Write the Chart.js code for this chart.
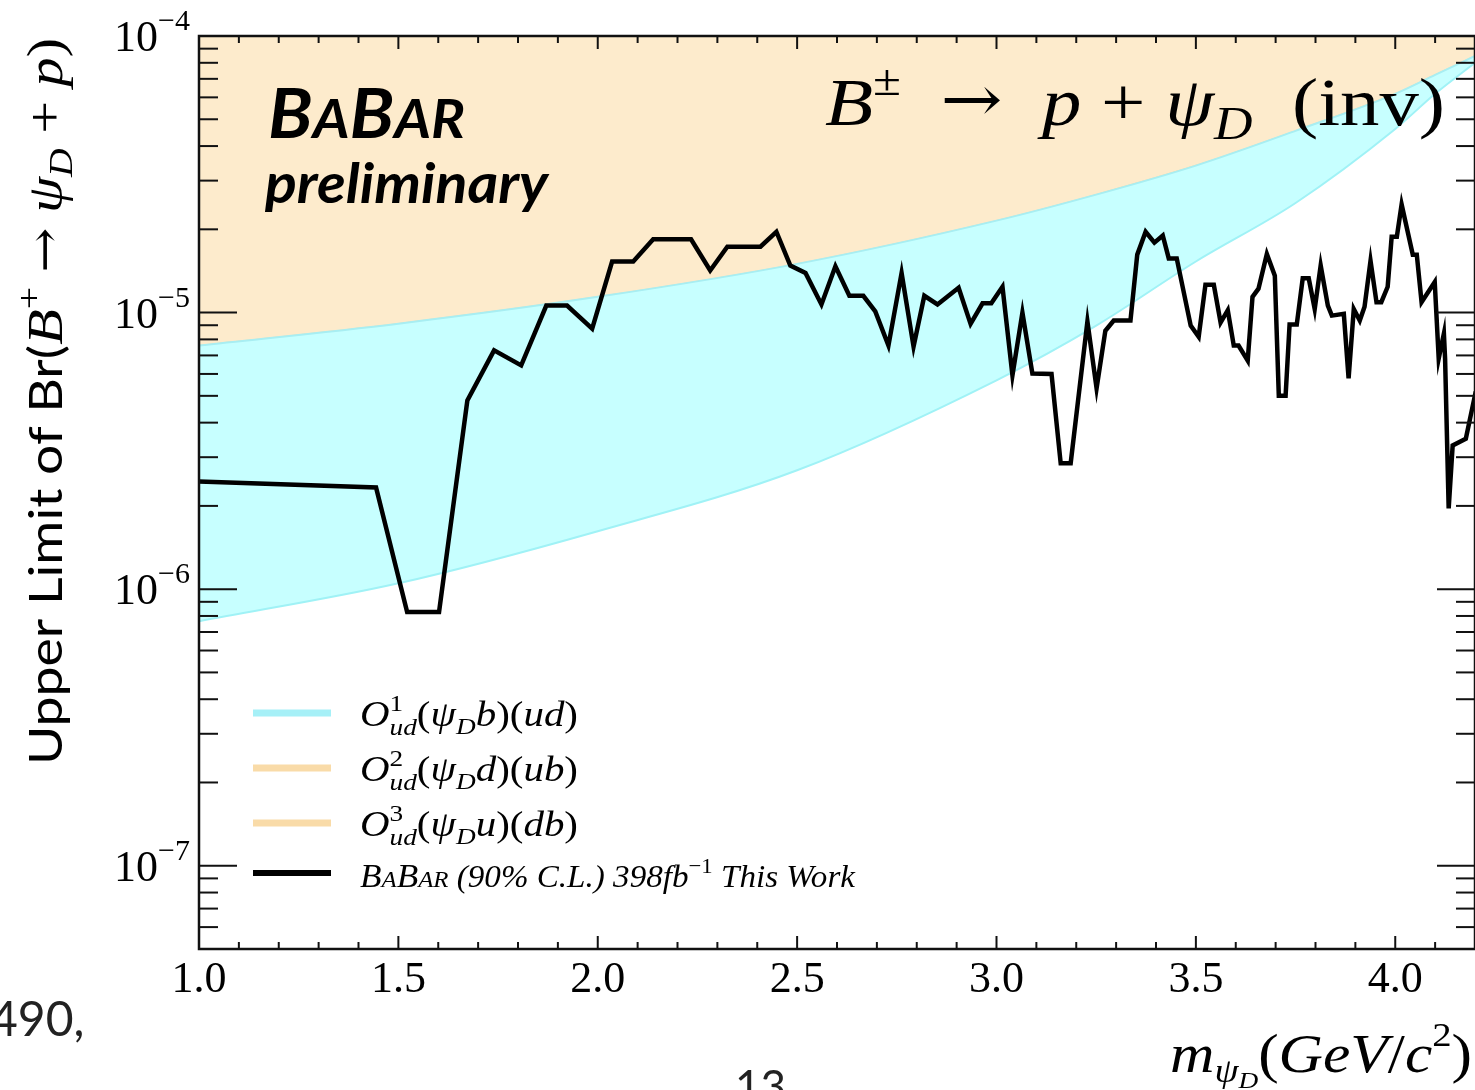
<!DOCTYPE html>
<html>
<head>
<meta charset="utf-8">
<script src="https://cdn.jsdelivr.net/npm/chart.js@4/dist/chart.umd.min.js"></script>
<style>
  html, body { margin: 0; padding: 0; background: #fff; }
  #wrap { width: 1475px; height: 1090px; }
</style>
</head>
<body>
<div id="wrap"><canvas id="limitChart" width="1475" height="1090"></canvas></div>
<script>
// band edges (theory predictions)
const bandX    = [1.0, 1.5, 2.0, 2.5, 3.0, 3.25, 3.5, 3.75, 4.0, 4.1, 4.2];
const cyanLow  = [7.66e-7, 1.05e-6, 1.62e-6, 2.69e-6, 5.69e-6, 8.97e-6, 1.53e-5, 2.49e-5, 4.61e-5, 6.18e-5, 8.0e-5];
const cyanHigh = [7.6e-6, 9.12e-6, 1.14e-5, 1.50e-5, 2.15e-5, 2.67e-5, 3.40e-5, 4.54e-5, 6.18e-5, 7.23e-5, 8.47e-5];
const orangeTop = [3e-4, 3e-4, 3e-4, 3e-4, 3e-4, 3e-4, 3e-4, 3e-4, 3e-4, 3e-4, 3e-4];

// BaBar 90% CL upper limit
const limitX = [1.000, 1.444, 1.522, 1.602, 1.673, 1.740, 1.808, 1.871, 1.923, 1.986,
  2.036, 2.089, 2.139, 2.234, 2.282, 2.325, 2.408, 2.448, 2.483, 2.521,
  2.561, 2.596, 2.631, 2.666, 2.696, 2.729, 2.762, 2.792, 2.819, 2.852,
  2.905, 2.935, 2.965, 2.987, 3.015, 3.040, 3.065, 3.090, 3.138, 3.161,
  3.186, 3.228, 3.251, 3.273, 3.294, 3.336, 3.353, 3.374, 3.396, 3.417,
  3.432, 3.452, 3.487, 3.507, 3.524, 3.545, 3.562, 3.580, 3.595, 3.607,
  3.630, 3.642, 3.657, 3.678, 3.698, 3.708, 3.725, 3.735, 3.753, 3.768,
  3.783, 3.798, 3.813, 3.831, 3.841, 3.871, 3.883, 3.896, 3.911, 3.923,
  3.938, 3.953, 3.965, 3.981, 3.991, 4.004, 4.016, 4.044, 4.054, 4.066,
  4.099, 4.109, 4.122, 4.125, 4.134, 4.144, 4.177, 4.202];
const limitY = [2.45e-6, 2.33e-6, 8.26e-7, 8.26e-7, 4.81e-6, 7.3e-6, 6.44e-6, 1.06e-5, 1.06e-5, 8.75e-6,
  1.53e-5, 1.53e-5, 1.84e-5, 1.84e-5, 1.42e-5, 1.73e-5, 1.73e-5, 1.96e-5, 1.48e-5, 1.39e-5,
  1.07e-5, 1.47e-5, 1.15e-5, 1.15e-5, 1.01e-5, 7.6e-6, 1.39e-5, 7.54e-6, 1.15e-5, 1.07e-5,
  1.23e-5, 9.1e-6, 1.08e-5, 1.08e-5, 1.24e-5, 5.93e-6, 1.0e-5, 6.02e-6, 6.0e-6, 2.85e-6,
  2.85e-6, 9.28e-6, 5.32e-6, 8.6e-6, 9.36e-6, 9.36e-6, 1.62e-5, 1.96e-5, 1.79e-5, 1.90e-5,
  1.57e-5, 1.57e-5, 8.97e-6, 8.18e-6, 1.26e-5, 1.26e-5, 9.2e-6, 1.02e-5, 7.6e-6, 7.6e-6,
  6.7e-6, 1.14e-5, 1.22e-5, 1.63e-5, 1.36e-5, 5.0e-6, 5.0e-6, 9.06e-6, 9.06e-6, 1.33e-5,
  1.33e-5, 1.03e-5, 1.48e-5, 1.06e-5, 9.75e-6, 9.9e-6, 5.78e-6, 1.03e-5, 9.36e-6, 1.05e-5,
  1.54e-5, 1.09e-5, 1.09e-5, 1.24e-5, 1.88e-5, 1.88e-5, 2.46e-5, 1.62e-5, 1.62e-5, 1.09e-5,
  1.29e-5, 6.82e-6, 8.4e-6, 6.8e-6, 1.96e-6, 3.31e-6, 3.5e-6, 5.19e-6];

const xTickValues = [1.0, 1.5, 2.0, 2.5, 3.0, 3.5, 4.0];
const xTickLabels = ["1.0", "1.5", "2.0", "2.5", "3.0", "3.5", "4.0"];
const yTickValues = [1e-4, 1e-5, 1e-6, 1e-7];
const yTickExps = ["\u22124", "\u22125", "\u22126", "\u22127"];

const SERIF = '"Liberation Serif", "DejaVu Serif", serif';
const SANS = 'Lato, "Open Sans", sans-serif';
const ARROW = '"DejaVu Serif", serif';

function pts(xs, ys) {
  return xs.map((x, i) => ({ x: x, y: ys[i] }));
}

// draws a row of text pieces [text, font, dy, noAdvance], squeezed to width
function rich(ctx, segs, x, y, width) {
  let total = 0;
  segs.forEach(s => {
    ctx.font = s[1];
    if (!s[3]) total += ctx.measureText(s[0]).width;
  });
  const k = width ? width / total : 1;
  ctx.save();
  ctx.translate(x, y);
  ctx.scale(k, 1);
  let cx = 0;
  segs.forEach(s => {
    ctx.font = s[1];
    ctx.fillText(s[0], cx, s[2] || 0);
    if (!s[3]) cx += ctx.measureText(s[0]).width;
  });
  ctx.restore();
}

function seg(ctx, x1, y1, x2, y2) {
  ctx.beginPath();
  ctx.moveTo(x1, y1);
  ctx.lineTo(x2, y2);
  ctx.stroke();
}

const decorPlugin = {
  id: "decor",
  afterDatasetsDraw(chart) {
    const ctx = chart.ctx;
    const xs = chart.scales.x, ys = chart.scales.y;
    const { left, right, top, bottom } = chart.chartArea;
    ctx.save();
    ctx.fillStyle = "#000";
    ctx.strokeStyle = "#111";
    ctx.textBaseline = "alphabetic";

    // ticks on all four sides, pointing in
    ctx.lineWidth = 2;
    for (let i = 10; i <= 42; i++) {
      const px = xs.getPixelForValue(i / 10);
      const len = i % 5 === 0 ? 13 : 7;
      seg(ctx, px, bottom, px, bottom - len);
      seg(ctx, px, top, px, top + len);
    }
    for (let d = -8; d <= -4; d++) {
      for (let m = 1; m <= 9; m++) {
        const v = m * Math.pow(10, d);
        if (v < 5.01e-8 || v > 1.0001e-4) continue;
        const py = ys.getPixelForValue(v);
        const len = m === 1 ? 38 : 19;
        seg(ctx, left, py, left + len, py);
        seg(ctx, right, py, right - len, py);
      }
    }
    ctx.lineWidth = 2.5;
    ctx.strokeRect(left, top, right - left, bottom - top);

    // tick labels
    ctx.textAlign = "center";
    ctx.font = "44px " + SERIF;
    xTickValues.forEach((v, i) => {
      ctx.fillText(xTickLabels[i], xs.getPixelForValue(v), 992);
    });
    ctx.textAlign = "left";
    yTickValues.forEach((v, i) => {
      const py = ys.getPixelForValue(v);
      ctx.font = "30px " + SERIF;
      const wSup = ctx.measureText(yTickExps[i]).width;
      ctx.font = "44px " + SERIF;
      const wBase = ctx.measureText("10").width;
      const x0 = 190 - wSup - wBase;
      ctx.fillText("10", x0, py + 15);
      ctx.font = "30px " + SERIF;
      ctx.fillText(yTickExps[i], x0 + wBase, py - 6);
    });

    // y axis title
    ctx.save();
    ctx.translate(62, 765);
    ctx.rotate(-Math.PI / 2);
    rich(ctx, [
      ["Upper Limit of Br(", "46px " + SANS],
      ["B", "italic 50px " + SERIF],
      ["+", "34px " + SERIF, -22],
      [" ", "50px " + SERIF],
      ["\u2192", "46px " + ARROW, -2],
      [" ", "50px " + SERIF],
      ["\u03c8", "italic 50px " + SERIF],
      ["D", "italic 34px " + SERIF, 10],
      [" + ", "50px " + SERIF],
      ["p", "italic 50px " + SERIF],
      [")", "50px " + SERIF]
    ], 0, 0, 727);
    ctx.restore();

    // x axis title
    rich(ctx, [
      ["m", "italic 54px " + SERIF],
      ["\u03c8", "italic 34px " + SERIF, 10],
      ["D", "italic 24px " + SERIF, 16],
      ["(", "54px " + SERIF],
      ["GeV", "italic 54px " + SERIF],
      ["/", "54px " + SERIF],
      ["c", "italic 54px " + SERIF],
      ["2", "34px " + SERIF, -26],
      [")", "54px " + SERIF]
    ], 1170, 1072, 302);

    // BaBar logo
    rich(ctx, [
      ["B", "italic bold 68px " + SANS],
      ["A", "italic bold 53px " + SANS],
      ["B", "italic bold 68px " + SANS],
      ["AR", "italic bold 53px " + SANS]
    ], 268, 138, 197);
    rich(ctx, [["preliminary", "italic bold 55px " + SANS]], 265, 203, 283);

    // process label
    rich(ctx, [
      ["B", "italic 68px " + SERIF],
      ["\u00b1", "44px " + SERIF, -30],
      ["  ", "68px " + SERIF],
      ["\u2192", "64px " + ARROW, -4],
      ["  ", "68px " + SERIF],
      ["p", "italic 68px " + SERIF],
      [" + ", "68px " + SERIF],
      ["\u03c8", "italic 68px " + SERIF],
      ["D", "italic 46px " + SERIF, 14],
      ["  (inv)", "68px " + SERIF]
    ], 825, 125, 620);

    // legend
    const legY = [713, 768, 823, 873];
    const legCol = ["#a6f0f7", "#f9dba8", "#f9dba8", "#000"];
    legY.forEach((y, i) => {
      ctx.strokeStyle = legCol[i];
      ctx.lineWidth = i === 3 ? 6 : 7;
      seg(ctx, 253, y, 331, y);
    });
    const f = "italic 36px " + SERIF, fu = "36px " + SERIF, fs = "italic 24px " + SERIF;
    const ops = [["1", "b", "ud"], ["2", "d", "ub"], ["3", "u", "db"]];
    ops.forEach((o, i) => {
      rich(ctx, [
        ["O", f],
        [o[0], "24px " + SERIF, -15, true],
        ["ud", fs, 9],
        ["(", fu],
        ["\u03c8", f],
        ["D", fs, 8],
        [o[1], f],
        [")(", fu],
        [o[2], f],
        [")", fu]
      ], 360, legY[i] + 13, 218);
    });
    rich(ctx, [
      ["B", "italic 34px " + SERIF],
      ["A", "italic 24px " + SERIF],
      ["B", "italic 34px " + SERIF],
      ["AR", "italic 24px " + SERIF],
      [" (90% C.L.) 398", "italic 32px " + SERIF],
      ["fb", "italic 32px " + SERIF],
      ["\u22121", "22px " + SERIF, -14],
      [" This Work", "italic 32px " + SERIF]
    ], 360, 887, 495);

    // bits of the surrounding page
    ctx.fillStyle = "#222";
    ctx.font = "48px " + SANS;
    ctx.fillText("490,", -10, 1036);
    ctx.font = "44px " + SANS;
    ctx.fillText("13", 735, 1102);
    ctx.restore();
  }
};

new Chart(document.getElementById("limitChart").getContext("2d"), {
  type: "line",
  data: {
    datasets: [
      {
        label: "O1 lower",
        data: pts(bandX, cyanLow),
        borderColor: "#a0f2f6",
        borderWidth: 2,
        fill: false,
        cubicInterpolationMode: "monotone",
        order: 2
      },
      {
        label: "O1(psiD b)(ud)",
        data: pts(bandX, cyanHigh),
        borderColor: "#a8eef2",
        backgroundColor: "#c7ffff",
        borderWidth: 2,
        fill: "-1",
        cubicInterpolationMode: "monotone",
        order: 2
      },
      {
        label: "O2/O3 lower",
        data: pts(bandX, cyanHigh),
        borderColor: "#f6d7a2",
        borderWidth: 1.5,
        fill: false,
        cubicInterpolationMode: "monotone",
        order: 3
      },
      {
        label: "O2(psiD d)(ub), O3(psiD u)(db)",
        data: pts(bandX, orangeTop),
        borderWidth: 0,
        backgroundColor: "#fdebcc",
        fill: "-1",
        order: 3
      },
      {
        label: "BaBar (90% C.L.) 398 fb-1 This Work",
        data: pts(limitX, limitY),
        borderColor: "#000",
        borderWidth: 4.5,
        borderJoinStyle: "miter",
        fill: false,
        tension: 0,
        order: 0
      }
    ]
  },
  options: {
    responsive: false,
    animation: false,
    layout: { padding: { top: 36, right: 0, left: 0, bottom: 0 } },
    elements: { point: { radius: 0 } },
    plugins: { legend: { display: false }, tooltip: { enabled: false } },
    scales: {
      x: {
        type: "linear",
        min: 1.0,
        max: 4.2,
        grid: { display: false },
        border: { display: false },
        ticks: { display: false },
        afterFit: s => { s.height = 141; }
      },
      y: {
        type: "logarithmic",
        min: 5e-8,
        max: 1e-4,
        grid: { display: false },
        border: { display: false },
        ticks: { display: false },
        afterFit: s => { s.width = 199; }
      }
    }
  },
  plugins: [decorPlugin]
});
</script>
</body>
</html>
